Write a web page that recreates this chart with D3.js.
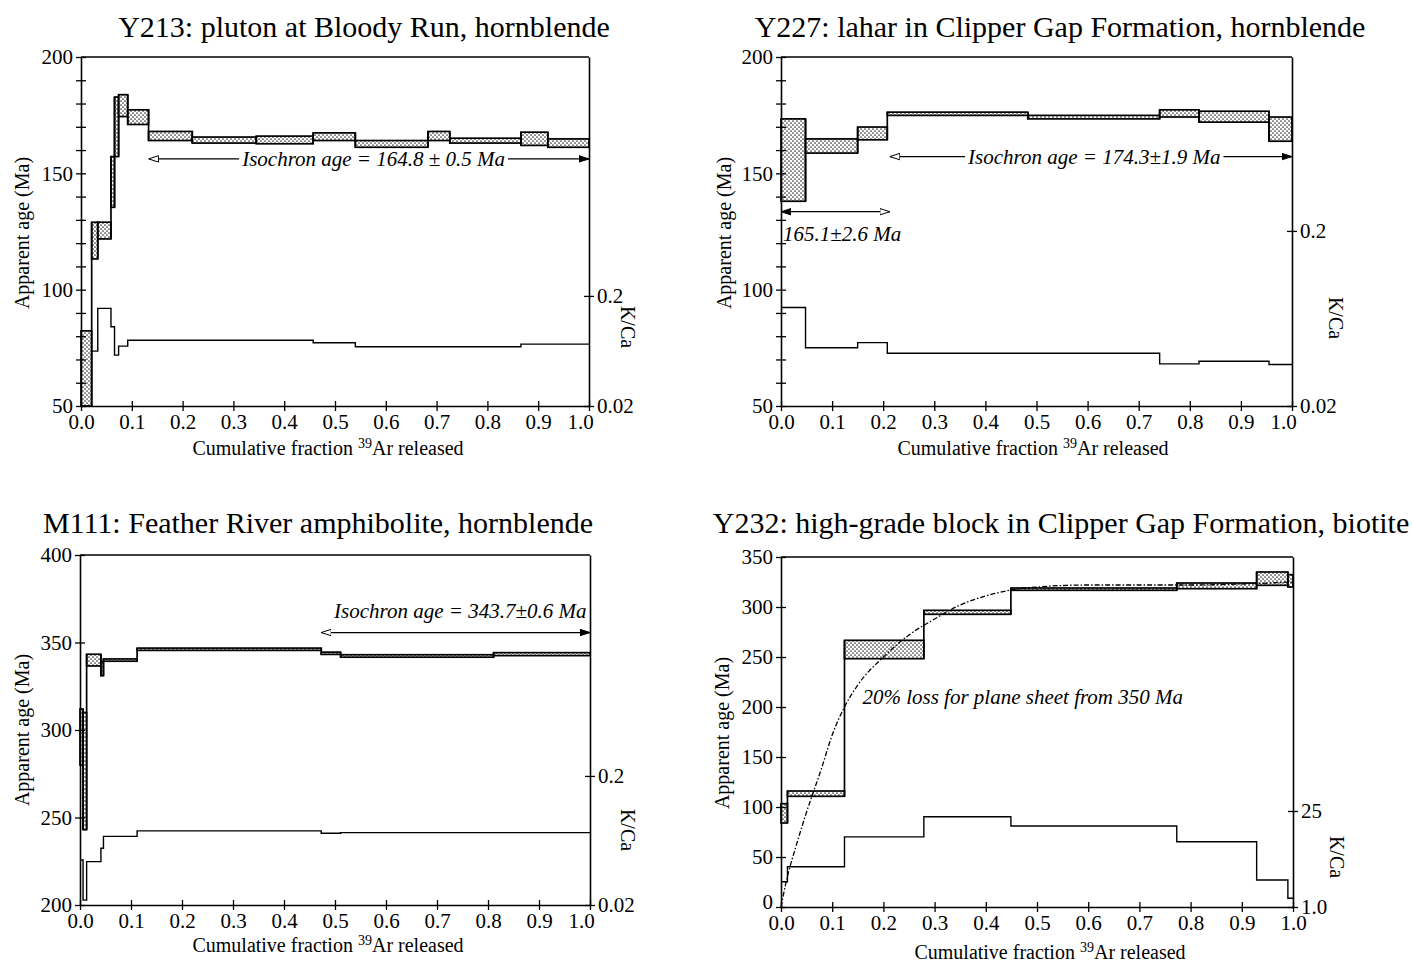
<!DOCTYPE html>
<html>
<head>
<meta charset="utf-8">
<title>Ar-Ar age spectra</title>
<script src="https://cdn.jsdelivr.net/npm/d3@7"></script>
<style>
  body { margin: 0; background: #fff; }
</style>
</head>
<body>
<svg id="fig" width="1413" height="963"></svg>
<script>
    const SERIF = '"Liberation Serif", "Times New Roman", serif';

    // ---- data (cumulative 39Ar fraction boundaries, age box top/bottom in Ma, K/Ca per step) ----
    const fracTicks = [0.0, 0.1, 0.2, 0.3, 0.4, 0.5, 0.6, 0.7, 0.8, 0.9, 1.0];

    const y213Frac = [0, 0.021, 0.033, 0.059, 0.066, 0.074, 0.092, 0.133, 0.219, 0.345, 0.457, 0.540, 0.683, 0.726, 0.866, 0.919, 1.0];
    const y213Hi = [82.3, 129, 129, 157.2, 182.8, 183.8, 177.3, 168, 165.6, 166, 167.4, 164.1, 168, 165.1, 167.7, 164.8];
    const y213Lo = [50, 113.2, 121.8, 135.4, 157.2, 174.4, 171, 164.1, 163, 162.7, 164.1, 161.2, 164.1, 163, 162, 161.2];
    const y213KCa = [0.063, 0.063, 0.154, 0.105, 0.058, 0.070, 0.079, 0.079, 0.079, 0.079, 0.075, 0.069, 0.069, 0.069, 0.073, 0.073];

    const y227Frac = [0, 0.048, 0.150, 0.208, 0.483, 0.741, 0.818, 0.955, 1.0];
    const y227Hi = [173.4, 164.8, 169.9, 176.3, 174.9, 177.3, 176.7, 174.2];
    const y227Lo = [138, 158.7, 164.4, 174.9, 173.4, 174.2, 172, 163.8];
    const y227KCa = [0.073, 0.043, 0.046, 0.040, 0.040, 0.0348, 0.036, 0.0345];

    const m111Frac = [0, 0.006, 0.013, 0.041, 0.046, 0.112, 0.473, 0.511, 0.811, 1.0];
    const m111Hi = [312, 310, 343.3, 339, 340.6, 346.8, 344.5, 343.0, 344.2];
    const m111Lo = [280, 243, 336.6, 331, 339.3, 345.5, 343.2, 341.6, 342.5];
    const m111KCa = [0.0446, 0.0218, 0.0434, 0.055, 0.068, 0.075, 0.072, 0.0727, 0.0727];

    const y232Frac = [0, 0.0126, 0.124, 0.279, 0.449, 0.773, 0.929, 0.99, 1.0];
    const y232Hi = [103.3, 116, 266.7, 296.7, 319, 324, 335, 332.3];
    const y232Lo = [84, 110.7, 248.3, 292.7, 316.7, 318.3, 321.7, 320];
    const y232KCa = [2.33, 3.86, 10.5, 20.6, 15.1, 8.9, 2.47, 1.34];

    // 20% loss curve (plane sheet, 350 Ma)
    const lossFrac = [0, 0.01, 0.03, 0.05, 0.08, 0.10, 0.124, 0.15, 0.20, 0.25, 0.30, 0.35, 0.40, 0.45, 0.50, 0.60, 0.70, 0.80, 0.90, 1.0];
    const lossAge = [0, 25, 62, 95, 140, 172, 200, 222, 250, 272, 288, 302, 311, 317, 320, 322, 322, 322, 323, 325];

    const titles = [
        "Y213: pluton at Bloody Run, hornblende",
        "Y227: lahar in Clipper Gap Formation, hornblende",
        "M111: Feather River amphibolite, hornblende",
        "Y232: high-grade block in Clipper Gap Formation, biotite"
    ];
    const ageTicks = [[50, 100, 150, 200], [50, 100, 150, 200], [200, 250, 300, 350, 400], [0, 50, 100, 150, 200, 250, 300, 350]];
    const kcaTicks = [[0.02, 0.2], [0.02, 0.2], [0.02, 0.2], [1, 25]];
    const kcaLabels = [["0.02", "0.2"], ["0.02", "0.2"], ["0.02", "0.2"], ["1.0", "25"]];

    // ---- layout ----
    const panels = [
        { left: 81, right: 589, top: 57, bottom: 406, age: [50, 200], minor: 10, kca: [0.02, 29.6],
          titleX: 364, titleY: 37, yTitle: [22, 233], kTitle: [628, 327], xTitle: [328, 455], lastShift: -9, lowLift: 0,
          frac: y213Frac, hi: y213Hi, lo: y213Lo, k: y213KCa },
        { left: 781, right: 1292, top: 57, bottom: 406, age: [50, 200], minor: 10, kca: [0.02, 1.97],
          titleX: 1060, titleY: 37, yTitle: [724, 233], kTitle: [1336, 318], xTitle: [1033, 455], lastShift: -9, lowLift: 0,
          frac: y227Frac, hi: y227Hi, lo: y227Lo, k: y227KCa },
        { left: 80, right: 590, top: 555, bottom: 905, age: [200, 400], minor: 0, kca: [0.02, 10.3],
          titleX: 318, titleY: 533, yTitle: [22, 730], kTitle: [628, 830], xTitle: [328, 952], lastShift: -9, lowLift: 0,
          frac: m111Frac, hi: m111Hi, lo: m111Lo, k: m111KCa },
        { left: 781, right: 1293, top: 557, bottom: 907, age: [0, 350], minor: 0, kca: [1, 125000],
          titleX: 1061, titleY: 533, yTitle: [722, 733], kTitle: [1337, 857], xTitle: [1050, 959], lastShift: 0, lowLift: -5,
          frac: y232Frac, hi: y232Hi, lo: y232Lo, k: y232KCa }
    ];

    const svg = d3.select("#fig");
    svg.append("rect").attr("width", 1413).attr("height", 963).attr("fill", "#fff");

    // stipple fill for the error boxes
    const defs = svg.append("defs");
    const pat = defs.append("pattern").attr("id", "dots")
        .attr("width", 4).attr("height", 4).attr("patternUnits", "userSpaceOnUse");
    pat.append("rect").attr("width", 4).attr("height", 4).attr("fill", "#fff");
    pat.append("circle").attr("cx", 1).attr("cy", 1).attr("r", 0.85).attr("fill", "#333");
    pat.append("circle").attr("cx", 3).attr("cy", 3).attr("r", 0.85).attr("fill", "#333");

    // arrow heads
    function marker(id, fill) {
        defs.append("marker").attr("id", id)
            .attr("viewBox", "0 -5 10 10").attr("refX", 10).attr("refY", 0)
            .attr("markerWidth", 10).attr("markerHeight", 10)
            .attr("markerUnits", "userSpaceOnUse").attr("orient", "auto-start-reverse")
            .append("path").attr("d", "M0,-3.2L10,0L0,3.2Z")
            .attr("fill", fill).attr("stroke", "#000").attr("stroke-width", 1);
    }
    marker("arrFill", "#000");
    marker("arrOpen", "#fff");

    function styleAxis(ax) {
        ax.attr("font-family", SERIF).attr("font-size", 21);
        ax.select(".domain").attr("stroke-width", 1.6);
        ax.selectAll(".tick line").attr("stroke-width", 1.3);
        ax.selectAll(".tick text").attr("fill", "#000");
    }

    const scales = panels.map(function (P, pi) {
        let g = svg.append("g");
        let x = d3.scaleLinear().domain([0, 1]).range([P.left, P.right]);
        let y = d3.scaleLinear().domain(P.age).range([P.bottom, P.top]);
        let k = d3.scaleLog().domain(P.kca).range([P.bottom, P.top]);

        // title
        svg.append("text").attr("x", P.titleX).attr("y", P.titleY)
            .attr("text-anchor", "middle").attr("font-family", SERIF).attr("font-size", 30)
            .text(titles[pi]);

        // K/Ca step line
        let kpts = P.k.map((v, i) => [P.frac[i], v]);
        kpts.push([1, P.k[P.k.length - 1]]);
        g.append("path")
            .attr("d", d3.line().x(d => x(d[0])).y(d => k(d[1])).curve(d3.curveStepAfter)(kpts))
            .attr("fill", "none").attr("stroke", "#000").attr("stroke-width", 1.4);

        // age spectrum boxes
        let steps = P.hi.map((h, i) => ({ x0: P.frac[i], x1: P.frac[i + 1], hi: h, lo: P.lo[i] }));
        g.selectAll("rect.step").data(steps).enter().append("rect")
            .attr("class", "step")
            .attr("x", d => x(d.x0)).attr("width", d => x(d.x1) - x(d.x0))
            .attr("y", d => y(d.hi)).attr("height", d => y(d.lo) - y(d.hi))
            .attr("fill", "url(#dots)").attr("stroke", "#000").attr("stroke-width", 1.7);
        // vertical risers between steps
        let risers = steps.slice(0, -1).map((d, i) => ({
            x: d.x1, a: Math.max(d.hi, steps[i + 1].hi), b: Math.min(d.lo, steps[i + 1].lo)
        }));
        g.selectAll("line.riser").data(risers).enter().append("line")
            .attr("x1", d => x(d.x)).attr("x2", d => x(d.x))
            .attr("y1", d => y(d.a)).attr("y2", d => y(d.b))
            .attr("stroke", "#000").attr("stroke-width", 1.7);

        // frame top
        g.append("line").attr("x1", P.left).attr("x2", P.right).attr("y1", P.top).attr("y2", P.top)
            .attr("stroke", "#000").attr("stroke-width", 1.6);

        // left axis
        let tv = P.minor ? d3.range(P.age[0], P.age[1] + 1, P.minor) : ageTicks[pi];
        let yAx = g.append("g").attr("transform", "translate(" + P.left + ",0)")
            .call(d3.axisLeft(y).tickValues(tv).tickSize(5).tickSizeOuter(0)
                .tickFormat(d => ageTicks[pi].includes(d) ? d : ""));
        styleAxis(yAx);
        yAx.selectAll(".tick line").attr("x1", 5);
        yAx.selectAll(".tick text").filter(d => d === P.age[0]).attr("dy", "0.32em").attr("y", P.lowLift);

        // right axis (K/Ca)
        let kAx = g.append("g").attr("transform", "translate(" + P.right + ",0)")
            .call(d3.axisRight(k).tickValues(kcaTicks[pi]).tickSize(5).tickSizeOuter(0)
                .tickFormat((d, i) => kcaLabels[pi][i]));
        styleAxis(kAx);
        kAx.selectAll(".tick line").attr("x1", -5);

        // bottom axis
        let xAx = g.append("g").attr("transform", "translate(0," + P.bottom + ")")
            .call(d3.axisBottom(x).tickValues(fracTicks).tickSize(5).tickSizeOuter(0)
                .tickFormat(d3.format(".1f")));
        styleAxis(xAx);
        xAx.selectAll(".tick line").attr("y1", -5);
        xAx.selectAll(".tick text").filter(d => d === 1).attr("dx", P.lastShift);

        // axis titles
        svg.append("text")
            .attr("transform", "translate(" + P.yTitle[0] + "," + P.yTitle[1] + ") rotate(-90)")
            .attr("dy", "0.35em").attr("text-anchor", "middle")
            .attr("font-family", SERIF).attr("font-size", 20).text("Apparent age (Ma)");
        svg.append("text")
            .attr("transform", "translate(" + P.kTitle[0] + "," + P.kTitle[1] + ") rotate(90)")
            .attr("dy", "0.35em").attr("text-anchor", "middle")
            .attr("font-family", SERIF).attr("font-size", 20).text("K/Ca");
        let xt = svg.append("text").attr("x", P.xTitle[0]).attr("y", P.xTitle[1])
            .attr("text-anchor", "middle").attr("font-family", SERIF).attr("font-size", 20);
        xt.append("tspan").text("Cumulative fraction ");
        xt.append("tspan").attr("font-size", 14).attr("dy", -7).text("39");
        xt.append("tspan").attr("dy", 7).text("Ar released");

        return { g: g, x: x, y: y };
    });

    // ---- annotations ----
    function italic(g, xp, yp, str, anchor) {
        return g.append("text").attr("x", xp).attr("y", yp).attr("dy", "0.33em")
            .attr("text-anchor", anchor || "middle").attr("font-family", SERIF)
            .attr("font-style", "italic").attr("font-size", 21).text(str);
    }
    function arrow(g, x1, x2, yp, mStart, mEnd) {
        let l = g.append("line").attr("x1", x1).attr("x2", x2).attr("y1", yp).attr("y2", yp)
            .attr("stroke", "#000").attr("stroke-width", 1.3);
        if (mStart) l.attr("marker-start", "url(#" + mStart + ")");
        if (mEnd) l.attr("marker-end", "url(#" + mEnd + ")");
    }
    // arrow broken by a centred label
    function labelledArrow(s, f0, f1, fc, age, str) {
        let cx = s.x(fc), yp = s.y(age);
        let t = italic(s.g, cx, yp, str);
        let w = t.node().getComputedTextLength();
        arrow(s.g, s.x(f0), cx - w / 2 - 3, yp, "arrOpen", null);
        arrow(s.g, cx + w / 2 + 3, s.x(f1), yp, null, "arrFill");
    }

    labelledArrow(scales[0], 0.133, 1.0, 0.576, 156.2, "Isochron age = 164.8 \u00b1 0.5 Ma");
    labelledArrow(scales[1], 0.213, 1.0, 0.613, 157.2, "Isochron age = 174.3\u00b11.9 Ma");

    arrow(scales[1].g, scales[1].x(0), scales[1].x(0.213), scales[1].y(133.5), "arrFill", "arrOpen");
    italic(scales[1].g, scales[1].x(0.004), scales[1].y(124), "165.1\u00b12.6 Ma", "start");

    arrow(scales[2].g, scales[2].x(0.473), scales[2].x(1.0), scales[2].y(355.7), "arrOpen", "arrFill");
    italic(scales[2].g, scales[2].x(0.993), scales[2].y(368), "Isochron age = 343.7\u00b10.6 Ma", "end");

    // loss curve, panel 4
    let s4 = scales[3];
    s4.g.append("path")
        .attr("d", d3.line().x((d, i) => s4.x(lossFrac[i])).y(d => s4.y(d)).curve(d3.curveMonotoneX)(lossAge))
        .attr("fill", "none").attr("stroke", "#000").attr("stroke-width", 1.3)
        .attr("stroke-dasharray", "5,2,1.5,2");
    italic(s4.g, s4.x(0.159), s4.y(210), "20% loss for plane sheet from 350 Ma", "start");
</script>
</body>
</html>
